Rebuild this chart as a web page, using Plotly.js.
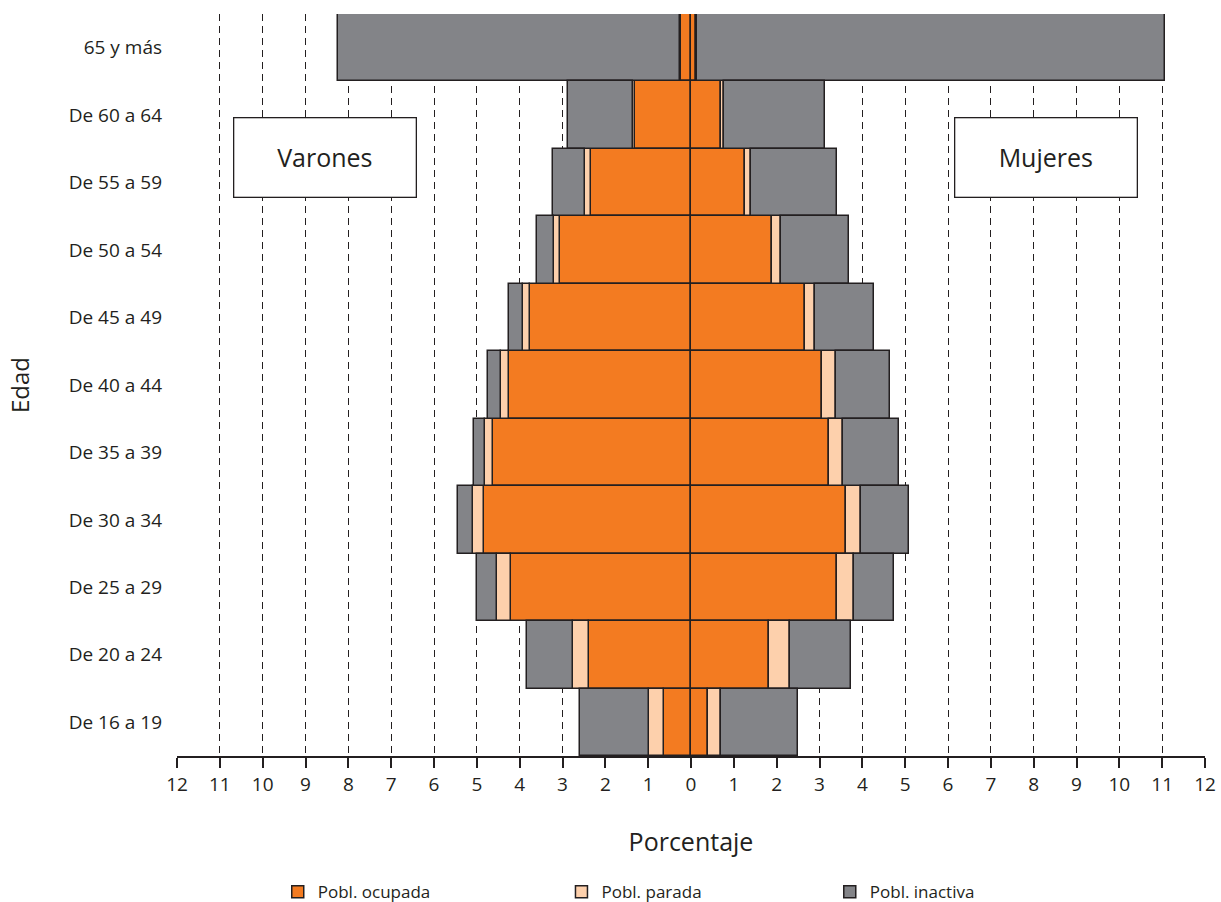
<!DOCTYPE html>
<html>
<head>
<meta charset="utf-8">
<script src="https://cdn.plot.ly/plotly-3.0.1.min.js"></script>
<style>html,body{margin:0;padding:0;background:#fff;}#chart{width:1221px;height:902px;}</style>
</head>
<body>
<div id="chart"></div>
<script>
// Age groups (top to bottom)
var ageGroups = ["65 y más","De 60 a 64","De 55 a 59","De 50 a 54","De 45 a 49","De 40 a 44","De 35 a 39","De 30 a 34","De 25 a 29","De 20 a 24","De 16 a 19"];

// Varones (%)
var menOcupada  = [0.23, 1.31, 2.34, 3.05, 3.75, 4.25, 4.62, 4.83, 4.20, 2.38, 0.64];
var menParada   = [0.02, 0.04, 0.13, 0.15, 0.17, 0.19, 0.19, 0.27, 0.34, 0.37, 0.33];
var menInactiva = [7.98, 1.53, 0.75, 0.39, 0.33, 0.30, 0.26, 0.35, 0.46, 1.09, 1.63];

// Mujeres (%)
var womenOcupada  = [0.12, 0.71, 1.27, 1.90, 2.65, 3.06, 3.22, 3.61, 3.40, 1.83, 0.39];
var womenParada   = [0.02, 0.05, 0.13, 0.21, 0.25, 0.33, 0.34, 0.36, 0.41, 0.49, 0.32];
var womenInactiva = [10.93, 2.36, 2.00, 1.58, 1.37, 1.26, 1.30, 1.13, 0.92, 1.42, 1.78];

// Axis ticks
var tickValues = [-12,-11,-10,-9,-8,-7,-6,-5,-4,-3,-2,-1,0,1,2,3,4,5,6,7,8,9,10,11,12];
var tickLabels = ["12","11","10","9","8","7","6","5","4","3","2","1","0","1","2","3","4","5","6","7","8","9","10","11","12"];

var seriesNames = ["Pobl. ocupada","Pobl. parada","Pobl. inactiva"];
var seriesColors = ["#f37b21","#fdd0ac","#838488"];
var legendIds = ["legend","legend2","legend3"];

var ink = "#231f20";
var fontFam = "Open Sans, sans-serif";

function neg(a){ return a.map(function(v){ return -v; }); }

var menSeries = [menOcupada, menParada, menInactiva];
var womenSeries = [womenOcupada, womenParada, womenInactiva];

var traces = [];
for (var i = 0; i < 3; i++) {
  traces.push({
    type: "bar", orientation: "h",
    y: ageGroups, x: neg(menSeries[i]),
    name: seriesNames[i], legendgroup: "g" + i, legend: legendIds[i],
    customdata: menSeries[i],
    hovertemplate: "Varones %{y}<br>" + seriesNames[i] + ": %{customdata}%<extra></extra>",
    marker: {color: seriesColors[i], line: {color: ink, width: 1.5}},
    showlegend: true
  });
  traces.push({
    type: "bar", orientation: "h",
    y: ageGroups, x: womenSeries[i],
    name: seriesNames[i], legendgroup: "g" + i, legend: legendIds[i],
    hovertemplate: "Mujeres %{y}<br>" + seriesNames[i] + ": %{x}%<extra></extra>",
    marker: {color: seriesColors[i], line: {color: ink, width: 1.5}},
    showlegend: false
  });
}

function legendAt(x) {
  return {
    orientation: "h", x: x, xanchor: "left",
    yref: "container", y: 0.011, yanchor: "middle",
    bgcolor: "rgba(0,0,0,0)", borderwidth: 0,
    font: {family: fontFam, size: 17, color: ink}
  };
}

var layout = {
  width: 1221, height: 902,
  margin: {l: 177, r: 16, t: 14, b: 146, autoexpand: false},
  paper_bgcolor: "#fff", plot_bgcolor: "#fff",
  barmode: "relative", bargap: 0,
  font: {family: fontFam, color: ink},
  xaxis: {
    range: [-12, 12], fixedrange: true,
    tickmode: "array", tickvals: tickValues, ticktext: tickLabels,
    tickfont: {family: fontFam, size: 19, color: ink},
    ticks: "outside", ticklen: 10, tickwidth: 1.5, tickcolor: ink,
    showline: true, linecolor: ink, linewidth: 1.5,
    showgrid: true, gridcolor: ink, gridwidth: 1.3, griddash: "7px,5px",
    zeroline: true, zerolinecolor: ink, zerolinewidth: 1.5,
    title: {text: "Porcentaje", font: {family: fontFam, size: 25, color: ink}, standoff: 38}
  },
  yaxis: {
    type: "category", categoryorder: "array", categoryarray: ageGroups,
    autorange: "reversed", fixedrange: true,
    ticks: "", ticklabelstandoff: 14,
    tickfont: {family: fontFam, size: 19, color: ink},
    showgrid: false, showline: false, zeroline: false,
    title: {text: "Edad", font: {family: fontFam, size: 24, color: ink}, standoff: 32}
  },
  legend: legendAt(0.098),
  legend2: legendAt(0.374),
  legend3: legendAt(0.635),
  annotations: [
    {text: "Varones", xref: "paper", yref: "paper", x: 0.1435, y: 0.806,
     xanchor: "center", yanchor: "middle", showarrow: false,
     width: 181, height: 78, borderpad: 0, borderwidth: 1.3,
     bordercolor: ink, bgcolor: "#fff",
     font: {family: fontFam, size: 25, color: ink}},
    {text: "Mujeres", xref: "paper", yref: "paper", x: 0.8458, y: 0.806,
     xanchor: "center", yanchor: "middle", showarrow: false,
     width: 181, height: 78, borderpad: 0, borderwidth: 1.3,
     bordercolor: ink, bgcolor: "#fff",
     font: {family: fontFam, size: 25, color: ink}}
  ]
};

Plotly.newPlot("chart", traces, layout, {displayModeBar: false, responsive: false});
</script>
</body>
</html>
